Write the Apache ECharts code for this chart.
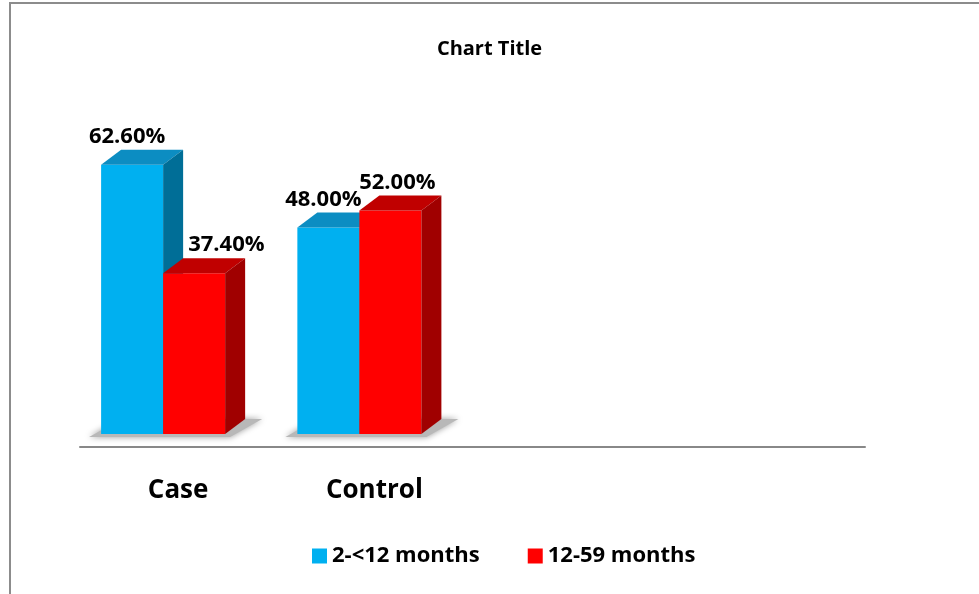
<!DOCTYPE html>
<html>
<head>
<meta charset="utf-8">
<script src="https://cdn.jsdelivr.net/npm/echarts@6/dist/echarts.min.js"></script>
<style>
  html, body { margin: 0; padding: 0; background: #fff; }
  #main { width: 979px; height: 594px; }
</style>
</head>
<body>
<div id="main"></div>
<script>
const categories = ['Case', 'Control', '', '']
const youngValues = [62.6, 48.0, null, null]
const olderValues = [37.4, 52.0, null, null]
const seriesNames = ['2-<12 months', '12-59 months']

const font = '"Open Sans", "DejaVu Sans", sans-serif'
const palette = [
  { front: '#00B0F0', top: '#0C8DC2', side: '#006E97' },
  { front: '#FF0000', top: '#C00000', side: '#A00000' }
]

// 3D look: depth offsets and how far the front face sits from the axis
const dx = 20
const dy = 15
const shiftX = -15
const shiftY = -13

const barGeom = (api, i, s) => {
  const base = api.coord([i, 0])
  const band = api.size([1, 0])[0]
  const w = band * 0.316
  const fl = base[0] + shiftX - w + s * w
  return { fl, fr: fl + w, fb: base[1] + shiftY, w }
}

const make3D = (s) => (params, api) => {
  const i = api.value(0)
  const v = api.value(1)
  if (isNaN(v)) return
  const g = barGeom(api, i, s)
  const ft = api.coord([i, v])[1] + shiftY
  const c = palette[s]

  let labelX = (g.fl + g.fr) / 2 + (s === 0 ? -5 : 7)
  let align = 'center'
  if (s === 1 && youngValues[i] > v) {
    // keep the label clear of the taller neighbour
    labelX = g.fl + dx + 5
    align = 'left'
  }

  return {
    type: 'group',
    children: [
      { type: 'rect', shape: { x: g.fl, y: ft, width: g.w, height: g.fb - ft }, style: { fill: c.front } },
      { type: 'polygon', shape: { points: [[g.fl, ft], [g.fl + dx, ft - dy], [g.fr + dx, ft - dy], [g.fr, ft]] }, style: { fill: c.top } },
      { type: 'polygon', shape: { points: [[g.fr, ft], [g.fr + dx, ft - dy], [g.fr + dx, g.fb - dy], [g.fr, g.fb]] }, style: { fill: c.side } },
      {
        type: 'text',
        x: labelX,
        y: ft - dy - 13,
        style: {
          text: v.toFixed(2) + '%',
          align,
          verticalAlign: 'middle',
          font: 'bold 22px ' + font,
          fill: '#000'
        }
      }
    ]
  }
}

const shadowItem = (params, api) => {
  const i = api.value(0)
  if (isNaN(api.value(1)) && isNaN(api.value(2))) return
  const a = barGeom(api, i, 0)
  const b = barGeom(api, i, 1)
  return {
    type: 'polygon',
    shape: { points: [[a.fl - 12, a.fb + 3], [b.fr + 5, a.fb + 3], [b.fr + dx + 17, a.fb - dy], [a.fl + dx, a.fb - dy]] },
    style: { fill: '#b8b8b8', shadowBlur: 6, shadowColor: 'rgba(0,0,0,0.4)' }
  }
}

const chart = echarts.init(document.getElementById('main'))

const option = {
  backgroundColor: '#fff',
  animation: false,
  title: {
    text: 'Chart Title',
    left: 'center',
    top: 34,
    textStyle: { fontFamily: font, fontSize: 20, fontWeight: 'bold', color: '#000' }
  },
  graphic: [
    { type: 'rect', shape: { x: 10, y: 3, width: 1000, height: 700 }, style: { fill: 'none', stroke: '#8c8c8c', lineWidth: 2 }, silent: true }
  ],
  legend: {
    data: seriesNames,
    left: 307,
    top: 540,
    icon: 'rect',
    itemWidth: 15,
    itemHeight: 15,
    itemGap: 48,
    textStyle: { fontFamily: font, fontSize: 22, fontWeight: 'bold', color: '#000' }
  },
  grid: { left: 80, right: 114, top: 103, bottom: 147 },
  xAxis: {
    type: 'category',
    data: categories,
    axisTick: { show: false },
    axisLine: { lineStyle: { color: '#888', width: 2 } },
    axisLabel: { margin: 31, fontFamily: font, fontSize: 26, fontWeight: 'bold', color: '#000' }
  },
  yAxis: {
    type: 'value',
    min: 0,
    max: 80,
    show: false,
    splitLine: { show: false }
  },
  series: [
    {
      name: 'shadow',
      type: 'custom',
      z: 1,
      silent: true,
      renderItem: shadowItem,
      encode: { x: 0, y: 1 },
      data: categories.map((c, i) => [i, youngValues[i], olderValues[i]])
    },
    {
      name: seriesNames[0],
      type: 'custom',
      z: 2,
      itemStyle: { color: palette[0].front },
      renderItem: make3D(0),
      encode: { x: 0, y: 1 },
      data: youngValues.map((v, i) => [i, v])
    },
    {
      name: seriesNames[1],
      type: 'custom',
      z: 3,
      itemStyle: { color: palette[1].front },
      renderItem: make3D(1),
      encode: { x: 0, y: 1 },
      data: olderValues.map((v, i) => [i, v])
    }
  ]
}

chart.setOption(option)
</script>
</body>
</html>
